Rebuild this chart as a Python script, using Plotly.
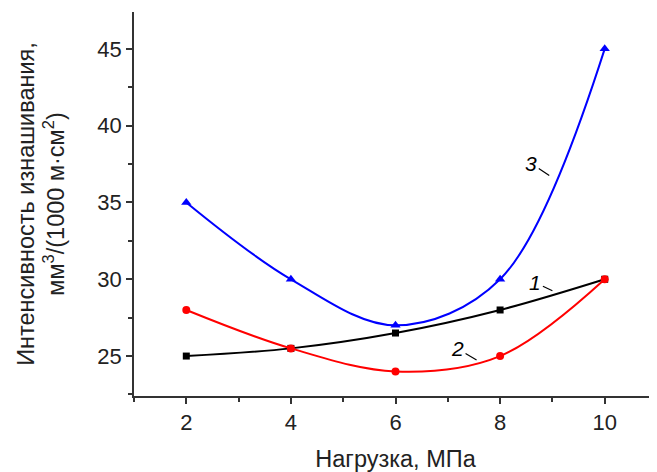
import plotly.graph_objects as go

load = [2, 4, 6, 8, 10]
curve1 = [25.0, 25.5, 26.5, 28.0, 30.0]
curve2 = [28.0, 25.5, 24.0, 25.0, 30.0]
curve3 = [35.0, 30.0, 27.0, 30.0, 45.0]

x_ticks = [2, 4, 6, 8, 10]
y_ticks = [25, 30, 35, 40, 45]

FONT = "Liberation Sans, Arial, sans-serif"

fig = go.Figure()
series = [
    (curve1, "black", "square", 7),
    (curve2, "#ff0000", "circle", 8),
    (curve3, "#0000ff", "triangle-up", 9),
]
for vals, col, sym, sz in series:
    fig.add_trace(go.Scatter(
        x=load, y=vals, mode="lines+markers",
        line=dict(color=col, width=2, shape="spline", smoothing=1),
        marker=dict(color=col, symbol=sym, size=sz),
        showlegend=False, cliponaxis=False,
    ))

labels = [
    ("1", 9.0, 29.25, -17, -8),
    ("2", 7.55, 24.75, -19, -11),
    ("3", 8.94, 36.75, -18, -12),
]
for txt, x, y, ax, ay in labels:
    fig.add_annotation(
        x=x, y=y, text="<i>%s</i>" % txt, showarrow=True, arrowhead=0,
        arrowwidth=1.2, arrowcolor="black", ax=ax, ay=ay, standoff=0,
        font=dict(family=FONT, size=21, color="black"),
    )

axis_common = dict(
    showline=True, linecolor="#333", linewidth=1.5, ticks="outside",
    ticklen=6, tickwidth=1.5, tickcolor="#333", showgrid=False, zeroline=False,
    tickfont=dict(family=FONT, size=22, color="#222"),
    mirror=False, automargin=False,
)

fig.update_xaxes(
    range=[1, 11], tickvals=x_ticks, ticktext=[str(v) for v in x_ticks],
    minor=dict(ticks="outside", ticklen=4, tickwidth=1.5, tickcolor="#333", dtick=1, showgrid=False),
    title=dict(text="Нагрузка, МПа", font=dict(family=FONT, size=23.5, color="#222"), standoff=20),
    **axis_common,
)
fig.update_yaxes(
    range=[22.4, 47.4], tickvals=y_ticks, ticktext=[str(v) for v in y_ticks],
    minor=dict(ticks="outside", ticklen=4, tickwidth=1.5, tickcolor="#333", dtick=2.5, showgrid=False),
    title=dict(text="Интенсивность изнашивания,<br>мм<sup>3</sup>/(1000 м·см<sup>2</sup>)",
               font=dict(family=FONT, size=23.5, color="#222"), standoff=26),
    **axis_common,
)

# page body has an 8px default margin, so the figure is sized/offset to compensate
fig.update_layout(
    width=649, height=464,
    margin=dict(l=126, r=0, t=4, b=76),
    plot_bgcolor="white", paper_bgcolor="white",
    font=dict(family=FONT),
)

fig.write_html("out.html")
